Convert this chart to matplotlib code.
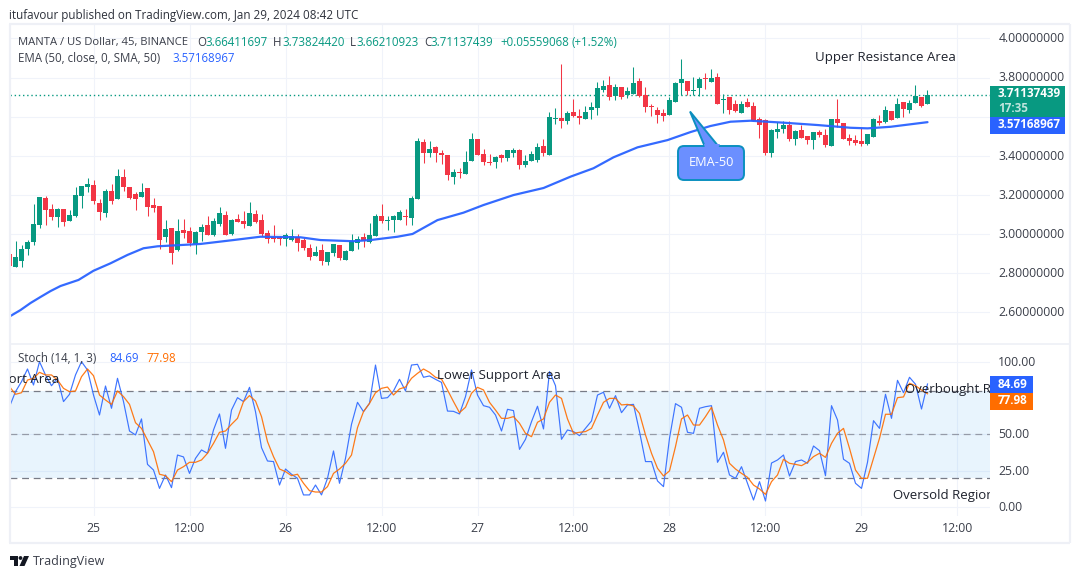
import matplotlib
matplotlib.use("Agg")
import matplotlib.pyplot as plt
from matplotlib.patches import Rectangle, Polygon, FancyBboxPatch, Circle
from matplotlib.transforms import ScaledTranslation

plt.rcParams['font.family'] = ['Open Sans', 'DejaVu Sans']

# candle index of the first row is -1; each candle is one 45-minute bar
opens = [2.898,2.833,2.862,2.923,2.961,3.046,3.184,3.128,3.087,3.128,3.066,3.092,3.194,3.240,3.250,3.158,3.107,3.220,3.179,3.291,3.240,3.204,3.189,3.235,3.148,3.143,2.985,3.031,2.918,3.020,3.015,2.949,3.010,3.046,2.995,3.051,3.097,3.000,3.077,3.066,3.041,3.102,3.071,3.005,2.985,2.985,2.974,2.969,2.985,2.969,2.928,2.887,2.918,2.857,2.903,2.944,2.867,2.913,2.954,
2.985,2.959,2.990,3.092,3.066,3.071,3.071,3.094,3.082,3.179,3.470,3.414,3.445,3.414,3.404,3.291,3.317,3.307,3.373,3.486,3.409,3.368,3.368,3.404,3.388,3.414,3.429,3.353,3.373,3.378,3.450,3.404,3.588,3.593,3.578,3.624,3.603,3.588,3.634,3.644,3.736,3.762,3.705,3.751,3.710,3.716,3.782,3.710,3.654,3.634,3.619,3.608,3.675,3.772,3.782,
3.731,3.746,3.797,3.777,3.802,3.685,3.700,3.665,3.618,3.675,3.654,3.588,3.583,3.414,3.521,3.537,3.557,3.486,3.532,3.501,3.480,3.521,3.506,3.450,3.588,3.567,3.491,3.480,3.475,3.460,3.496,3.578,3.573,3.629,3.593,3.675,3.634,3.670,3.700,3.66411697]
highs = [2.898,2.964,2.942,2.969,3.153,3.189,3.194,3.153,3.133,3.128,3.123,3.240,3.245,3.286,3.276,3.179,3.230,3.256,3.332,3.332,3.240,3.215,3.261,3.235,3.184,3.143,3.071,3.031,3.077,3.077,3.036,3.015,3.051,3.092,3.082,3.138,3.117,3.077,3.102,3.117,3.163,3.123,3.102,3.020,3.046,2.990,3.005,3.026,3.000,2.979,2.949,2.939,2.949,2.908,2.949,2.944,2.918,3.000,2.990,
3.005,3.056,3.102,3.153,3.092,3.097,3.123,3.128,3.194,3.491,3.486,3.475,3.450,3.429,3.404,3.332,3.337,3.424,3.516,3.486,3.434,3.409,3.399,3.409,3.429,3.440,3.434,3.404,3.424,3.465,3.486,3.624,3.644,3.869,3.629,3.690,3.639,3.654,3.675,3.777,3.787,3.808,3.767,3.751,3.751,3.854,3.797,3.751,3.665,3.649,3.639,3.700,3.777,3.895,3.782,
3.802,3.802,3.823,3.843,3.823,3.716,3.700,3.685,3.680,3.695,3.675,3.598,3.588,3.537,3.573,3.578,3.578,3.532,3.557,3.501,3.521,3.532,3.537,3.588,3.690,3.567,3.511,3.506,3.542,3.511,3.593,3.608,3.654,3.629,3.695,3.675,3.685,3.762,3.700,3.73824420]
lows = [2.836,2.833,2.833,2.893,2.944,3.032,3.046,3.071,3.036,3.041,3.066,3.087,3.133,3.215,3.153,3.071,3.087,3.153,3.179,3.220,3.179,3.123,3.189,3.092,3.112,2.923,2.959,2.847,2.913,2.979,2.939,2.898,2.964,2.995,2.990,3.041,2.995,2.995,3.061,3.031,3.041,3.056,2.990,2.954,2.959,2.944,2.939,2.964,2.913,2.918,2.867,2.887,2.841,2.841,2.887,2.867,2.867,2.913,2.923,
2.933,2.954,2.990,3.056,3.020,3.010,3.071,3.046,3.046,3.179,3.363,3.394,3.368,3.358,3.276,3.256,3.286,3.307,3.373,3.404,3.353,3.353,3.337,3.368,3.373,3.394,3.332,3.342,3.373,3.368,3.399,3.404,3.562,3.542,3.562,3.598,3.562,3.588,3.588,3.608,3.726,3.685,3.685,3.690,3.695,3.716,3.700,3.624,3.603,3.567,3.578,3.608,3.675,3.710,3.710,
3.710,3.705,3.741,3.777,3.665,3.618,3.613,3.624,3.618,3.649,3.578,3.491,3.404,3.394,3.491,3.516,3.475,3.455,3.491,3.460,3.434,3.496,3.445,3.450,3.547,3.486,3.455,3.455,3.450,3.455,3.496,3.557,3.567,3.583,3.593,3.598,3.618,3.670,3.649,3.66210923]
closes = [2.836,2.882,2.923,2.959,3.051,3.189,3.123,3.087,3.128,3.061,3.097,3.199,3.245,3.256,3.169,3.112,3.220,3.169,3.296,3.240,3.184,3.179,3.215,3.138,3.133,2.969,3.026,2.903,3.015,3.005,2.954,3.010,3.036,2.995,3.066,3.107,2.995,3.071,3.061,3.051,3.107,3.061,3.000,2.974,2.974,2.974,2.995,2.990,2.954,2.928,2.882,2.908,2.862,2.908,2.949,2.877,2.913,2.964,2.974,
2.964,2.995,3.092,3.066,3.071,3.092,3.112,3.089,3.184,3.475,3.414,3.434,3.414,3.404,3.302,3.317,3.312,3.368,3.486,3.404,3.368,3.363,3.394,3.388,3.429,3.429,3.353,3.373,3.409,3.445,3.414,3.598,3.593,3.578,3.619,3.603,3.593,3.624,3.649,3.746,3.757,3.700,3.751,3.700,3.731,3.772,3.705,3.649,3.649,3.608,3.603,3.685,3.772,3.792,3.731,
3.736,3.792,3.792,3.797,3.665,3.690,3.634,3.629,3.665,3.649,3.578,3.557,3.414,3.532,3.537,3.557,3.486,3.527,3.491,3.480,3.521,3.506,3.455,3.588,3.567,3.486,3.475,3.465,3.460,3.511,3.588,3.567,3.634,3.583,3.665,3.639,3.670,3.705,3.654,3.71137439]

ema_index = [-0.83,0.83,2.5,4.17,5.83,7.5,10.5,13,15.83,18.67,21.33,23.67,30.83,36.33,40.83,47.5,50.83,56.33,59.17,63.67,66.17,70.33,74.67,78,83,88,92.5,96.33,99.67,103.67,108.67,112.5,115.83,119.17,122.5,128,133.67,139.17,142,145.83,152]
ema_values = [2.581,2.611,2.647,2.678,2.708,2.734,2.765,2.812,2.850,2.893,2.927,2.937,2.949,2.969,2.986,2.983,2.969,2.963,2.969,2.986,3.000,3.071,3.109,3.148,3.199,3.235,3.293,3.336,3.392,3.443,3.480,3.521,3.552,3.574,3.579,3.569,3.557,3.543,3.540,3.548,3.57168967]

stoch_k = [69.1,79.4,86.3,95.0,84.0,100.0,90.9,83.5,88.6,72.6,77.6,90.9,100.0,94.3,77.1,63.4,83.3,68.0,88.6,72.6,52.4,49.7,60.7,29.5,25.6,13.0,22.2,13.5,35.9,34.6,23.3,33.6,39.4,37.1,53.1,64.1,40.5,66.8,75.3,72.6,82.4,65.7,41.0,31.8,31.4,15.3,26.3,22.7,19.9,8.5,8.5,15.3,8.5,19.9,38.7,16.5,33.6,57.0,72.1,65.7,71.4,97.7,74.8,75.3,79.9,87.9,79.9,97.7,98.2,89.3,90.2,87.9,85.8,66.1,65.9,64.1,76.0,94.3,77.1,69.8,68.7,63.4,52.4,67.3,66.4,39.8,46.7,58.8,69.4,53.8,93.2,83.5,46.7,53.1,52.0,49.2,54.2,59.3,77.1,79.0,68.0,76.7,65.0,70.3,70.7,52.0,31.4,31.4,18.1,14.2,47.4,71.2,68.7,51.5,50.8,68.0,69.1,69.8,30.9,37.8,22.2,19.9,27.9,16.5,5.0,17.6,4.3,30.4,32.5,35.9,21.5,31.4,32.5,30.2,42.1,38.9,21.7,69.8,60.0,33.0,30.2,16.5,13.0,30.9,59.5,54.2,77.6,61.1,87.2,78.7,89.3,84.5,67.5,84.69]
stoch_d = [82.9,77.6,78.7,87.4,88.6,92.7,90.9,90.9,87.4,81.7,79.4,79.9,89.7,95.0,90.4,77.1,73.7,70.7,79.9,76.0,70.7,58.1,54.2,46.2,38.2,22.7,21.7,17.6,25.6,27.9,30.9,30.9,32.5,37.1,43.9,51.5,52.4,57.0,61.1,72.6,76.7,73.0,62.3,45.1,34.8,26.3,24.5,21.7,22.7,16.5,11.4,10.5,10.5,14.2,23.3,26.3,30.2,35.9,54.7,65.7,71.4,78.7,81.7,82.6,77.1,81.3,82.6,88.6,92.0,95.0,92.7,89.3,88.1,80.6,72.6,65.0,68.7,78.3,82.4,80.6,72.1,66.8,61.1,61.1,62.3,57.7,50.8,48.5,58.4,60.7,72.1,77.1,74.8,60.7,50.8,51.5,52.0,54.2,63.4,72.1,74.8,74.8,70.3,70.7,69.6,64.5,49.7,37.1,26.8,21.5,25.0,41.7,60.7,63.4,56.5,56.5,62.3,68.7,56.5,46.2,30.2,26.3,23.3,20.6,15.3,12.6,8.9,17.6,22.2,33.0,30.2,29.5,28.6,30.9,34.8,37.1,34.3,43.9,50.8,54.2,40.5,25.6,19.9,19.9,33.6,47.4,63.9,63.9,75.3,75.8,85.2,83.5,80.6,77.98]

price_ticks = [2.6, 2.8, 3.0, 3.2, 3.4, 3.6, 3.8, 4.0]
stoch_ticks = [0, 25, 50, 100]
time_ticks = [13, 29, 45, 61, 77, 93, 109, 125, 141, 157]
time_labels = ['25', '12:00', '26', '12:00', '27', '12:00', '28', '12:00', '29', '12:00']

GREEN, RED, BLUE, ORANGE = '#089981', '#F23645', '#2962FF', '#FF6D00'
GRID, FRAME, TEXT, MUTED = '#F0F3FA', '#EEF0F6', '#131722', '#3B3F4A'
W, H = 1080, 579
xs = list(range(-1, len(opens) - 1))

fig = plt.figure(figsize=(W / 100, H / 100), dpi=100, facecolor='white')


def axes_px(x0, y0, x1, y1, **kw):
    return fig.add_axes([x0 / W, 1 - y1 / H, (x1 - x0) / W, (y1 - y0) / H], **kw)


ax = axes_px(10, 24, 990, 344)
ax2 = axes_px(10, 344, 990, 516)
ov = axes_px(0, 0, W, H, zorder=10)
ov.set_xlim(0, W); ov.set_ylim(H, 0); ov.axis('off'); ov.patch.set_alpha(0)

xlim = (-0.9167, 162.4167)  # candles sit on half-pixels, so 5 px bodies and 1 px wicks stay crisp
for a in (ax, ax2):
    a.set_xlim(*xlim)
    a.set_facecolor('white')
    for s in a.spines.values():
        s.set_visible(False)
    a.set_xticks(time_ticks)
    a.grid(True, color=GRID, lw=0.8)
    a.set_axisbelow(True)
    a.yaxis.tick_right()

lift = ScaledTranslation(0, 1.2 / 100, fig.dpi_scale_trans)

# price pane
ax.set_ylim(3.8 - (344 - 77.5) / 195.6, 3.8 + (77.5 - 24) / 195.6)
ax.set_yticks(price_ticks)
ax.set_yticklabels([f'{t:.8f}' for t in price_ticks])
ax.tick_params(axis='y', length=0, pad=6, labelsize=8.8, labelcolor=MUTED)
ax.tick_params(axis='x', length=0, labelbottom=False)

colors = [GREEN if c >= o else RED for o, c in zip(opens, closes)]
ax.vlines(xs, lows, highs, colors=colors, lw=0.75, zorder=3)
ax.bar(xs, [max(abs(c - o), 0.005) for o, c in zip(opens, closes)],
       bottom=[min(o, c) for o, c in zip(opens, closes)],
       width=0.83, color=colors, linewidth=0, zorder=3)
ax.plot(ema_index, ema_values, color=BLUE, lw=1.6, zorder=4, alpha=0.95,
        solid_capstyle='round', solid_joinstyle='round')
ax.axhline(closes[-1], color=GREEN, lw=1.0, ls=(0, (1, 2)), zorder=2)

# stochastic pane
ax2.set_ylim((507.3 - 516) / 1.456, (507.3 - 344) / 1.456)
ax2.set_yticks(stoch_ticks)
ax2.set_yticklabels([f'{t:.2f}' for t in stoch_ticks])
ax2.tick_params(axis='y', length=0, pad=6, labelsize=8.8, labelcolor=MUTED)
ax2.tick_params(axis='x', length=0, labelbottom=False)
ax2.axhspan(20, 80, color='#2196F3', alpha=0.1, lw=0, zorder=1)
for lev, al in ((80, 1.0), (50, 0.7), (20, 1.0)):
    ax2.axhline(lev, color='#787B86', lw=0.9, ls=(0, (5.5, 3.8)), alpha=al, zorder=2)
ax2.plot(xs, stoch_k, color='#3D74FF', lw=0.85, zorder=3)
ax2.plot(xs, stoch_d, color=ORANGE, lw=0.9, zorder=4, alpha=0.9)

# nudge the scale labels up a pixel, as in the reference
fig.canvas.draw()
for a in (ax, ax2):
    for tl in a.get_yticklabels():
        tl.set_transform(tl.get_transform() + lift)

# frame and pane separator
for (x0, y0, x1, y1) in [(9, 24, W - 10, 24), (9, 543, W - 10, 543), (10, 24, 10, 543),
                         (1070, 24, 1070, 543)]:
    ov.plot([x0, x1], [y0, y1], color=FRAME, lw=1.6, solid_capstyle='butt')
ov.plot([10, 1070], [344, 344], color=FRAME, lw=1.2)


def label(x, y, s, color=TEXT, size=9, ha='left', **kw):
    return ov.text(x, y, s, color=color, fontsize=size, ha=ha, va='center', **kw)


# time axis
for t, s in zip(time_ticks, time_labels):
    label(15 + 6 * t, 529, s, color=MUTED, ha='center', size=8.8)

# header
label(9, 15, 'itufavour published on TradingView.com, Jan 29, 2024 08:42 UTC', color='#2E323C', size=8.4)
label(18, 42, 'MANTA / US Dollar, 45, BINANCE', color=MUTED, size=8.1)
for x, s, c in [(197, 'O', MUTED), (205, '3.66411697', GREEN), (273, 'H', MUTED), (282, '3.73824420', GREEN),
                (350, 'L', MUTED), (356, '3.66210923', GREEN), (424, 'C', MUTED), (430, '3.71137439', GREEN),
                (500, '+0.05559068', GREEN), (571, '(+1.52%)', GREEN)]:
    label(x, 42, s, color=c, size=8.3)
label(18, 59, 'EMA (50, close, 0, SMA, 50)', color=MUTED, size=8.3)
label(172, 59, '3.57168967', color=BLUE, size=8.3)
label(18, 358, 'Stoch (14, 1, 3)', color=MUTED, size=8.3)
label(109, 358, '84.69', color=BLUE, size=8.3)
label(146, 358, '77.98', color=ORANGE, size=8.3)

# price scale flags
ov.add_patch(Rectangle((990, 86), 75, 31, color=GREEN, lw=0))
ov.add_patch(Rectangle((990, 117), 75, 16.5, color=BLUE, lw=0))
label(998, 93.5, '3.71137439', color='white', weight='bold', size=8.4)
label(998, 108.5, '17:35', color='#BFE5DE', weight='bold', size=8.4)
label(998, 125, '3.57168967', color='white', weight='bold', size=8.4)
ov.add_patch(Rectangle((990, 376), 43, 17, color=BLUE, lw=0))
ov.add_patch(Rectangle((990, 393), 43, 16.5, color=ORANGE, lw=0))
label(998, 384, '84.69', color='white', weight='bold', size=8.4)
label(998, 401, '77.98', color='white', weight='bold', size=8.4)

# drawing annotations (the reference clips these at the pane edges)
label(815, 57, 'Upper Resistance Area', color='#1E222D', size=9.55)
for x, y, s in [(437, 376, 'Lower Support Area'), (-23, 380, 'Support Area'),
                (905, 390, 'Overbought Region'), (893, 496, 'Oversold Region')]:
    t = label(x, y, s, color='#1E222D', size=9.55)
    t.set_clip_on(True)
    t.set_clip_path(Rectangle((10, 344), 980, 172, transform=ov.transData))

# EMA-50 callout
ov.add_patch(Polygon([(690, 111.5), (705, 147), (719, 147)], closed=True, facecolor='#6B8FFF',
                     edgecolor='#0B8FBF', lw=1.4, zorder=5))
ov.add_patch(FancyBboxPatch((682, 150), 58, 26, boxstyle='round,pad=4,rounding_size=6', facecolor='#6B8FFF',
                            edgecolor='#0B8FBF', lw=1.4, zorder=5))
ov.add_patch(Polygon([(704, 144), (720, 144), (716, 153), (706, 153)], closed=True, facecolor='#6B8FFF',
                     edgecolor='none', zorder=6))
ov.text(711, 163, 'EMA-50', color='white', fontsize=9.2, ha='center', va='center', zorder=7)

# TradingView mark
ov.add_patch(Polygon([(10, 556), (18, 556), (18, 566), (14, 566), (14, 560), (10, 560)], closed=True, color='#131722', lw=0))
ov.add_patch(Circle((20.5, 558), 1.9, color='#131722', lw=0))
ov.add_patch(Polygon([(24, 556), (29, 556), (24.5, 566), (19.5, 566)], closed=True, color='#131722', lw=0))
label(33, 561.5, 'TradingView', color='#3B3F4A', size=9.0)

fig.savefig('out.png', dpi=100, facecolor='white')
